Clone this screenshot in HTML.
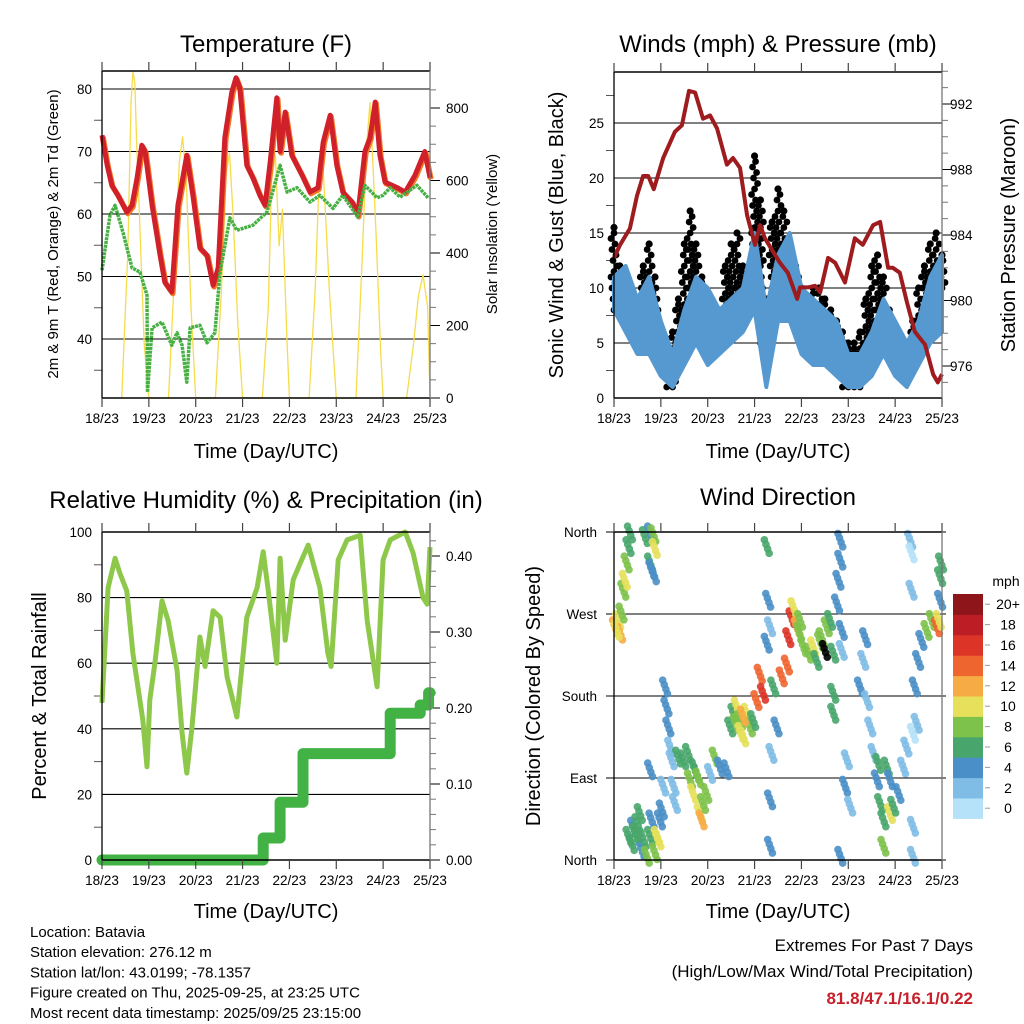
<!DOCTYPE html>
<html><head><meta charset="utf-8"><style>
body{margin:0;background:#fff}
svg{display:block;font-family:"Liberation Sans",Arial,sans-serif}
</style></head><body>
<svg id="c" width="1024" height="1024" viewBox="0 0 1024 1024"></svg>
<script>
// ---------- DATA ----------
const dayLabels=["18/23","19/23","20/23","21/23","22/23","23/23","24/23","25/23"];
// Temperature
const tempDays=[0,.11,.21,.34,.53,.64,.75,.85,.92,1.07,1.24,1.34,1.49,1.62,1.81,1.94,2.09,2.24,2.37,2.48,2.62,2.77,2.86,2.94,3.09,3.22,3.37,3.48,3.59,3.73,3.8,3.91,4.05,4.27,4.44,4.61,4.72,4.87,5.01,5.14,5.34,5.46,5.61,5.72,5.83,5.93,6.04,6.3,6.47,6.68,6.89,7];
const tempVals=[72.6,67.8,64.6,63,60.3,61.4,65.8,71,70,61.4,53.4,49.1,47.5,61.4,69.4,63,54.6,53.4,48.6,51.4,72.2,79.5,81.8,80.2,67.8,65.8,63,61.4,68.3,78.6,70,76.3,69.4,66.2,63.5,64.2,71.5,75.8,67.8,63.5,61.9,59.8,70,72.2,77.9,69.4,65.1,64.2,63.5,66.2,70,65.8];
const dewDays=[0,.17,.28,.45,.64,.81,.96,.97,1.07,1.28,1.49,1.6,1.71,1.81,1.88,2.09,2.24,2.41,2.52,2.73,2.88,3.22,3.52,3.8,3.95,4.16,4.44,4.65,4.93,5.14,5.46,5.61,5.87,6.0,6.15,6.36,6.72,6.96];
const dewVals=[51,59.8,61.4,57,51.4,50.7,47,31.5,41.8,42.7,39,41,39,33.1,41.8,42.2,39.4,41,50.7,59.4,57.4,58.2,60.3,67.8,63.5,64.2,61.9,63,60.9,63,59.5,64.6,62.6,63,64.2,62.7,64.6,62.6];
const solarDays=[0.42,0.55,0.62,0.66,0.70,0.74,0.80,0.9,1.0, 1.42,1.55,1.65,1.72,1.8,1.9,2.0, 2.42,2.55,2.65,2.72,2.8,2.9,3.0, 3.42,3.55,3.62,3.7,3.78,3.85,3.95,4.0, 4.42,4.55,4.62,4.7,4.78,4.85,4.95,5.0, 5.42,5.55,5.65,5.72,5.78,5.85,5.95,6.0, 6.5,6.65,6.75,6.85,6.95,7.0];
const solarVals=[0,400,820,900,870,700,500,150,0, 0,350,650,720,600,250,0, 0,300,620,676,500,200,0, 0,250,600,670,420,520,150,0, 0,300,560,680,480,300,100,0, 0,380,700,815,650,450,120,0, 0,150,280,340,250,0];
// Winds
const windDays=[0,.25,.5,.75,1,1.25,1.5,1.75,2,2.25,2.5,2.75,3,3.25,3.5,3.75,4,4.25,4.5,4.75,5,5.25,5.5,5.75,6,6.25,6.5,6.75,7];
const windLow=[8,6,4,4,2,1,3,5,3,4,5,6,8,1,7,7,4,3,3,2,1,1,2,4,2,1,3,5,6];
const windHigh=[11,12,9,11,7,4,8,11,10,8,9,10,15,8,13,15,10,9,8,7,4,4,6,9,7,5,7,11,13];
const gustVals=[15.5,12,11,10,9,12,14,11,6,5,6,9,14,17,14,11,8,8,8,12,14,15,12,11,22,18,9,16,19,17,14,12,10,9,10,10,9,8,7,6,5,5,6,9,12,13,11,8,6,5,5,7,10,12,14,15,13];
const presDays=[0,.13,.34,.49,.62,.73,.85,1.05,1.3,1.45,1.6,1.73,1.9,2.05,2.2,2.41,2.54,2.69,2.84,3.01,3.12,3.22,3.54,3.71,3.91,3.97,4.14,4.29,4.4,4.57,4.72,4.93,5.14,5.31,5.53,5.68,5.85,5.95,6.1,6.25,6.42,6.64,6.81,6.91,7];
const presVals=[982.6,983.4,984.4,986.4,987.6,987.6,986.8,988.7,990.3,990.7,992.8,992.7,991.1,991.3,990.5,988.3,988.7,988.1,985.2,983.4,984.6,983.8,982.3,981.7,980.1,980.8,980.8,980.9,980.5,982.6,982.3,981.1,983.8,983.4,984.6,984.8,982,982,981.7,979.9,978.1,977.3,975.5,975,975.5];
// RH & precip
const rhDays=[0,.13,.28,.38,.53,.66,.87,.96,1.02,1.13,1.28,1.41,1.6,1.71,1.81,1.92,2.09,2.2,2.37,2.52,2.67,2.88,3.09,3.31,3.44,3.54,3.73,3.8,3.91,4.08,4.23,4.4,4.65,4.82,4.89,5.04,5.23,5.51,5.66,5.87,6.0,6.15,6.47,6.64,6.85,6.94,7];
const rhVals=[47.9,83,92,87.5,82,63,42.7,28.4,48.8,60,79,73,58,38.7,26.5,40.5,68,59,76,74,55.8,43.6,74,83,94,83,60,92,67,85.4,90.5,96,83,63,59,91.5,97.6,99,73,52.8,91.5,97.6,100,93.6,80,78,95.4];
const precipDays=[0,3.44,3.8,4.29,6.15,6.79,6.97,7];
const precipVals=[0,0.029,0.076,0.14,0.193,0.204,0.22,0.22];
// Wind direction
const dirDays=[0.02,0.09,0.13,0.06,0.16,0.20,0.23,0.27,0.31,0.34,0.66,0.77,0.84,0.87,0.77,0.80,0.85,0.31,0.38,0.41,0.48,0.55,0.59,0.63,0.70,0.77,0.80,0.87,0.91,0.95,0.98,1.02,0.77,1.05,1.09,1.12,1.16,1.2,1.23,1.27,1.3,1.37,1.48,1.58,1.62,1.69,1.76,1.83,1.87,1.9,1.97,2.05,2.15,2.26,2.4,2.48,2.55,2.62,2.69,2.76,2.83,2.9,2.97,3.04,3.11,3.18,3.26,3.29,3.33,3.26,3.4,3.47,3.36,3.33,3.33,3.58,3.69,3.72,3.79,3.83,3.9,3.97,4.04,4.15,4.25,4.32,4.43,4.54,4.61,4.68,4.68,4.68,4.76,4.79,4.83,4.83,4.86,4.86,4.93,4.97,5.04,4.83,5.25,5.32,5.36,5.4,5.47,5.54,5.61,5.68,5.75,5.82,5.89,5.96,6.07,6.17,6.24,6.32,6.35,6.35,6.38,6.46,6.38,6.38,6.42,6.49,6.56,6.67,6.78,6.89,6.93,6.96,6.98,6.96,5.75,5.64,5.89,2.6,2.7,2.75,1.72,1.8,0.45,0.5,3.95,4.4,4.5];
const dirDegs=[256,263,249,252,271,296,307,326,344,359,355,359,357,342,326,319,313,26,18,36,29,51,11,22,4,26,44,8,26,22,44,55,99,81,190,168,146,124,110,81,62,113,110,117,88,73,95,51,44,62,73,95,113,102,99,146,161,168,153,135,161,146,153,175,204,183,344,285,256,238,190,146,117,66,15,201,214,244,266,277,256,263,234,227,234,219,244,256,263,227,183,161,281,307,329,351,252,230,81,110,59,4,190,219,244,175,146,117,88,62,44,102,51,59,73,102,124,351,337,296,139,150,37,4,190,219,241,252,263,256,263,311,326,285,15,106,88,150,140,158,100,90,30,40,250,240,230];
const dirSpeeds=[12,11,12,10,8,8,10,8,6,6,6,4,8,10,6,4,4,6,6,4,8,6,4,6,8,6,4,8,10,10,4,4,4,2,4,4,4,2,2,2,2,6,6,6,8,10,6,10,12,8,8,2,8,4,4,6,6,10,8,10,10,8,6,14,14,16,6,4,2,4,6,4,2,4,4,14,14,16,16,10,12,8,8,8,10,6,8,8,6,6,6,6,4,4,4,4,4,2,4,2,2,4,4,2,4,2,2,2,4,6,6,6,10,6,4,2,2,2,0,2,0,2,2,2,4,4,4,8,8,14,10,6,6,4,8,6,4,8,10,12,6,8,6,6,8,8];
const speedBins=["0","2","4","6","8","10","12","14","16","18","20+"];
const binColors=["#b5e2f8","#7fbde6","#4a8fc7","#48a66c","#7dc24b","#e6e05a","#f7ab45","#ef6530","#dd3428","#bd1e26","#8e161b"];

// ---------- DRAW ----------
const NS="http://www.w3.org/2000/svg";
const svg=document.getElementById('c');
function el(tag,attrs,parent,text){const e=document.createElementNS(NS,tag);for(const k in attrs)e.setAttribute(k,attrs[k]);if(text!==undefined)e.textContent=text;(parent||svg).appendChild(e);return e;}
function lin(d0,d1,r0,r1){return v=>r0+(v-d0)*(r1-r0)/(d1-d0);}

function panelFrame(g,L,R,T,B){
  el('line',{x1:L,y1:T,x2:R,y2:T,stroke:'#000','stroke-width':1.5},g);
  el('line',{x1:L,y1:B,x2:R,y2:B,stroke:'#000','stroke-width':1.5},g);
  el('line',{x1:L,y1:T,x2:L,y2:B,stroke:'#000','stroke-width':1.3},g);
  el('line',{x1:R,y1:T,x2:R,y2:B,stroke:'#777','stroke-width':1.3},g);
  for(let i=0;i<8;i++){
    const x=L+i*(R-L)/7;
    el('line',{x1:x,y1:T-9,x2:x,y2:T,stroke:'#444','stroke-width':1.2},g);
    el('line',{x1:x,y1:B,x2:x,y2:B+9,stroke:'#444','stroke-width':1.2},g);
    const t=el('text',{x:x,y:B+25,'font-size':13.5,'text-anchor':'middle',fill:'#000'},g,dayLabels[i]);
    
    
  }
}
function txt(x,y,s,size,anchor,name,extra){const t=el('text',Object.assign({x:x,y:y,'font-size':size,'text-anchor':anchor||'middle',fill:'#000'},extra||{}),svg,s);return t;}
function grid(g,L,R,y){el('line',{x1:L,y1:y,x2:R,y2:y,stroke:'#000','stroke-width':1.1},g);}
function poly(g,xs,ys,attrs){return el('polyline',Object.assign({points:xs.map((x,i)=>x.toFixed(1)+','+ys[i].toFixed(1)).join(' '),fill:'none'},attrs),g);}

// ===== Panel 1 : Temperature =====
(function(){
  const L=102,R=430,T=71,B=398;
  const g=el('g',{});
  const X=lin(0,7,L,R), Y=lin(40,80,339,89), Ys=lin(0,800,398,108);
  [40,50,60,70,80].forEach(v=>{grid(g,L,R,Y(v));const t=el('text',{x:92,y:Y(v)+5,'font-size':13.5,'text-anchor':'end'},g,String(v));});
  [35,45,55,65,75].forEach(v=>el('line',{x1:L-8,y1:Y(v),x2:L,y2:Y(v),stroke:'#555'},g));
  [0,200,400,600,800].forEach(v=>{el('line',{x1:R,y1:Ys(v),x2:R+10,y2:Ys(v),stroke:'#000'},g);const t=el('text',{x:446,y:Ys(v)+5,'font-size':13.5,'text-anchor':'start'},g,String(v));});
  [50,100,150,250,300,350,450,500,550,650,700,750,850].forEach(v=>el('line',{x1:R,y1:Ys(v),x2:R+6,y2:Ys(v),stroke:'#777'},g));
  const sol=poly(g,solarDays.map(X),solarVals.map(Ys),{stroke:'#f6dc4a','stroke-width':1.3,'stroke-linejoin':'round'});
  
  const o=poly(g,tempDays.map(d=>X(d)+1),tempVals.map(v=>Y(v)+1.5),{stroke:'#f47a28','stroke-width':5.5,'stroke-linejoin':'round'});
  
  const r=poly(g,tempDays.map(X),tempVals.map(Y),{stroke:'#d0202a','stroke-width':5,'stroke-linejoin':'round'});
  
  const dw=poly(g,dewDays.map(X),dewVals.map(Y),{stroke:'#46b043','stroke-width':3.5,'stroke-dasharray':'3 0.8','stroke-linejoin':'round'});
  
  panelFrame(g,L,R,T,B);
})();
txt(266,52,'Temperature (F)',24,'middle','temperature-title');
txt(58,234,'2m & 9m T (Red, Orange) & 2m Td (Green)',15,'middle','temp-y-axis-title',{transform:'rotate(-90 58 234)'});
txt(497,234,'Solar Insolation (Yellow)',15,'middle','solar-y-axis-title',{transform:'rotate(-90 497 234)'});
txt(266,458,'Time (Day/UTC)',20,'middle','temp-x-axis-title');

// ===== Panel 2 : Winds =====
(function(){
  const L=614,R=942,T=72,B=398;
  const g=el('g',{});
  const X=lin(0,7,L,R), Y=lin(0,25,398,123), Yp=lin(976,992,366,104);
  [5,10,15,20,25].forEach(v=>grid(g,L,R,Y(v)));
  [0,5,10,15,20,25].forEach(v=>{const t=el('text',{x:604,y:Y(v)+5,'font-size':13.5,'text-anchor':'end'},g,String(v));});
  [2.5,7.5,12.5,17.5,22.5,27.5].forEach(v=>el('line',{x1:L-8,y1:Y(v),x2:L,y2:Y(v),stroke:'#555'},g));
  [976,980,984,988,992].forEach(v=>{el('line',{x1:R,y1:Yp(v),x2:R+10,y2:Yp(v),stroke:'#000'},g);const t=el('text',{x:950,y:Yp(v)+5,'font-size':13.5,'text-anchor':'start'},g,String(v));});
  for(let v=975;v<=994;v++){if(v%4)el('line',{x1:R,y1:Yp(v),x2:R+6,y2:Yp(v),stroke:'#777'},g);}
  // gust dots (drawn behind band)
  gustVals.forEach((v,i)=>{
    const d=i*0.125; const x=X(d);
    const k=Math.min(windHigh.length-1,Math.round(d/0.25)); const base=windHigh[k]-3;
    let n=0;
    for(let s=base;s<v;s+=0.5){n++;const c=el('circle',{cx:x+((n*3)%7-3),cy:Y(s),r:3.4,fill:'#000'},g);}
    const c=el('circle',{cx:x,cy:Y(v),r:3.6,fill:'#000'},g);
    
  });
  const pts=windDays.map((d,i)=>X(d)+','+Y(windHigh[i])).concat(windDays.slice().reverse().map((d,j)=>{const i=windDays.length-1-j;return X(d)+','+Y(windLow[i]);}));
  const band=el('polygon',{points:pts.join(' '),fill:'#5599d0',stroke:'#5599d0','stroke-width':4,'stroke-linejoin':'round'},g);
  
  const p=poly(g,presDays.map(X),presVals.map(Yp),{stroke:'#9e1b1e','stroke-width':4,'stroke-linejoin':'round'});
  
  panelFrame(g,L,R,T,B);
})();
txt(778,52,'Winds (mph) & Pressure (mb)',24,'middle','winds-title');
txt(563,235,'Sonic Wind & Gust (Blue, Black)',20,'middle','wind-y-axis-title',{transform:'rotate(-90 563 235)'});
txt(1015,235,'Station Pressure (Maroon)',20,'middle','pressure-y-axis-title',{transform:'rotate(-90 1015 235)'});
txt(778,458,'Time (Day/UTC)',20,'middle','winds-x-axis-title');

// ===== Panel 3 : RH & Precip =====
(function(){
  const L=102,R=430,T=532,B=860;
  const g=el('g',{});
  const X=lin(0,7,L,R), Y=lin(0,100,860,532), Yp=lin(0,0.4,860,556);
  [20,40,60,80].forEach(v=>grid(g,L,R,Y(v)));
  [0,20,40,60,80,100].forEach(v=>{const t=el('text',{x:92,y:Y(v)+5,'font-size':13.5,'text-anchor':'end'},g,String(v));});
  [10,30,50,70,90].forEach(v=>el('line',{x1:L-8,y1:Y(v),x2:L,y2:Y(v),stroke:'#555'},g));
  [0,0.1,0.2,0.3,0.4].forEach(v=>{el('line',{x1:R,y1:Yp(v),x2:R+10,y2:Yp(v),stroke:'#000'},g);const t=el('text',{x:446,y:Yp(v)+5,'font-size':13.5,'text-anchor':'start'},g,v.toFixed(2));});
  for(let v=0.02;v<0.43;v+=0.02){if(Math.round(v*100)%10)el('line',{x1:R,y1:Yp(v),x2:R+6,y2:Yp(v),stroke:'#777'},g);}
  const rh=poly(g,rhDays.map(X),rhVals.map(Y),{stroke:'#8dc84a','stroke-width':5,'stroke-linejoin':'round'});
  
  const xs=[],ys=[];
  precipDays.forEach((d,i)=>{if(i>0){xs.push(X(d));ys.push(Yp(precipVals[i-1]));}xs.push(X(d));ys.push(Yp(precipVals[i]));});
  const pr=poly(g,xs,ys,{stroke:'#42b245','stroke-width':11,'stroke-linecap':'round','stroke-linejoin':'round'});
  
  panelFrame(g,L,R,T,B);
})();
txt(266,508,'Relative Humidity (%) & Precipitation (in)',24,'middle','humidity-title');
txt(46,696,'Percent & Total Rainfall',20,'middle','rh-y-axis-title',{transform:'rotate(-90 46 696)'});
txt(266,918,'Time (Day/UTC)',20,'middle','rh-x-axis-title');

// ===== Panel 4 : Wind Direction =====
(function(){
  const L=614,R=942,T=532,B=860;
  const g=el('g',{});
  const X=lin(0,7,L,R), Y=lin(0,360,860,532);
  const dl=['North','East','South','West','North'];
  [0,90,180,270,360].forEach((v,i)=>{grid(g,L-8,R+4,Y(v));const t=el('text',{x:597,y:Y(v)+5,'font-size':13.5,'text-anchor':'end'},g,dl[i]);});
  dirDays.forEach((d,i)=>{
    const bin=Math.min(10,Math.floor(dirSpeeds[i]/2));
    const x=X(d),y=Y(dirDegs[i]);
    for(let k=0;k<4;k++){
      const c=el('circle',{cx:x+((k*5)%4-1.5)*1.6,cy:y+(k-1.5)*4.5,r:3.8,fill:binColors[bin],'fill-opacity':0.9},g);
      
    }
  });
  panelFrame(g,L,R,T,B);
  const cb=el('g',{});
  const top=594,h=20.4;
  for(let i=0;i<11;i++){
    const y=top+(10-i)*h;
    const r=el('rect',{x:953,y:y,width:30,height:h+0.5,fill:binColors[i]},cb);
    
    el('line',{x1:985,y1:y+h/2,x2:990,y2:y+h/2,stroke:'#999'},cb);
    const t=el('text',{x:1008,y:y+h/2+5,'font-size':14,'text-anchor':'middle'},cb,speedBins[i]);
    
  }
})();
txt(778,505,'Wind Direction',24,'middle','wind-direction-title');
txt(1006,586,'mph',14,'middle','colorbar-unit');
txt(540,696,'Direction (Colored By Speed)',20,'middle','direction-y-axis-title',{transform:'rotate(-90 540 696)'});
txt(778,918,'Time (Day/UTC)',20,'middle','direction-x-axis-title');

// ===== Footer =====
const info=['Location: Batavia','Station elevation: 276.12 m','Station lat/lon: 43.0199; -78.1357','Figure created on Thu, 2025-09-25, at 23:25 UTC','Most recent data timestamp: 2025/09/25 23:15:00'];
info.forEach((s,i)=>txt(30,937+i*20.2,s,15,'start','station-info-line'));
txt(973,951,'Extremes For Past 7 Days',17,'end','extremes-heading');
txt(973,977,'(High/Low/Max Wind/Total Precipitation)',17,'end','extremes-subheading');
txt(973,1004,'81.8/47.1/16.1/0.22',17,'end','extremes-values',{fill:'#c8202a','font-weight':'bold'});
</script>
</body></html>
